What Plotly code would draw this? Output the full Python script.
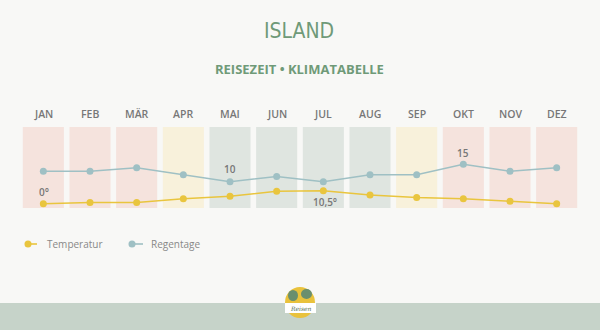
import plotly.graph_objects as go

months = ["JAN", "FEB", "MÄR", "APR", "MAI", "JUN", "JUL", "AUG", "SEP", "OKT", "NOV", "DEZ"]
temperatur = [0, 1, 1, 4, 6, 10, 10.5, 7, 5, 4, 2, 0]
regentage = [13, 13, 14, 12, 10, 11.5, 10, 12, 12, 15, 13, 14]
season = ["schlecht", "schlecht", "schlecht", "mittel", "gut", "gut", "gut", "gut", "mittel", "schlecht", "schlecht", "schlecht"]

season_colors = {"schlecht": "#f5e3dd", "mittel": "#f8f1db", "gut": "#dfe5e0"}
BG = "#f8f8f6"
TEMP_C = "#e9c53e"
RAIN_C = "#9fc0c4"
TXT = "#777777"
GREEN = "#6f9a78"

x = list(range(len(months)))

fig = go.Figure()
fig.add_trace(go.Scatter(x=x, y=temperatur, mode="lines+markers", name="Temperatur",
                         line=dict(color=TEMP_C, width=1.6), marker=dict(size=7, color=TEMP_C),
                         yaxis="y", showlegend=False, hoverinfo="skip"))
fig.add_trace(go.Scatter(x=x, y=regentage, mode="lines+markers", name="Regentage",
                         line=dict(color=RAIN_C, width=1.6), marker=dict(size=7, color=RAIN_C),
                         yaxis="y2", showlegend=False, hoverinfo="skip"))

shapes = []
for i, s in enumerate(season):
    shapes.append(dict(type="rect", xref="x", yref="paper", x0=i - 0.44, x1=i + 0.44, y0=0, y1=1,
                       fillcolor=season_colors[s], line=dict(width=0), layer="below"))

H = 81.0  # plot height px
TOP = 127.0
def py(p):  # pixel y -> paper y
    return (TOP + H - p) / H
W = 560.0
def px(p):
    return (p - 20) / W

# bottom band
shapes.append(dict(type="rect", xref="paper", yref="paper", x0=px(-5), x1=px(605), y0=py(303), y1=py(335),
                   fillcolor="#c6d3c9", line=dict(width=0), layer="below"))
# logo
shapes.append(dict(type="circle", xref="paper", yref="paper", x0=px(285), x1=px(315), y0=py(318), y1=py(287),
                   fillcolor="#e9c23c", line=dict(width=0)))
shapes.append(dict(type="circle", xref="paper", yref="paper", x0=px(288), x1=px(298), y0=py(301), y1=py(290),
                   fillcolor="#6a8f6e", line=dict(width=0)))
shapes.append(dict(type="circle", xref="paper", yref="paper", x0=px(301), x1=px(312), y0=py(299), y1=py(289),
                   fillcolor="#6a8f6e", line=dict(width=0)))
shapes.append(dict(type="rect", xref="paper", yref="paper", x0=px(285), x1=px(316), y0=py(313), y1=py(303),
                   fillcolor="#ffffff", line=dict(width=0)))
# legend
for (cx, c1, col) in [(28, 37, TEMP_C), (132, 143, RAIN_C)]:
    shapes.append(dict(type="line", xref="paper", yref="paper", x0=px(cx), x1=px(c1), y0=py(244), y1=py(244),
                       line=dict(color=col, width=1.6)))
    shapes.append(dict(type="circle", xref="paper", yref="paper", x0=px(cx - 3.5), x1=px(cx + 3.5),
                       y0=py(247.5), y1=py(240.5), fillcolor=col, line=dict(width=0)))

annotations = []
for i, m in enumerate(months):
    annotations.append(dict(x=i, y=py(114), xref="x", yref="paper", text=m, showarrow=False,
                            font=dict(family="Open Sans", size=10.5, color=TXT, weight=600),
                            xanchor="center", yanchor="middle"))

def lab(**kw):
    d = dict(showarrow=False, xanchor="center", yanchor="middle")
    d.update(kw)
    return d

annotations += [
    lab(x=4, y=regentage[4], xref="x", yref="y2", text="10", yshift=13,
        font=dict(family="Open Sans", size=10, color=TXT, weight=600)),
    lab(x=9, y=regentage[9], xref="x", yref="y2", text="15", yshift=11,
        font=dict(family="Open Sans", size=10, color=TXT, weight=600)),
    lab(x=0, y=temperatur[0], xref="x", yref="y", text="0°", yshift=12, xshift=1,
        font=dict(family="Open Sans", size=10, color=TXT, weight=600)),
    lab(x=6, y=temperatur[6], xref="x", yref="y", text="10,5°", yshift=-11, xshift=2,
        font=dict(family="Open Sans", size=10, color=TXT, weight=600)),
    lab(x=px(299), y=py(31), xref="paper", yref="paper", text="ISLAND",
        font=dict(family="Liberation Sans Narrow, DejaVu Sans Condensed, Liberation Sans", size=21, color=GREEN)),
    lab(x=px(299), y=py(69), xref="paper", yref="paper", text="REISEZEIT • KLIMATABELLE",
        font=dict(family="Open Sans", size=13, color=GREEN, weight=700)),
    lab(x=px(45), y=py(244), xref="paper", yref="paper", text="Temperatur", xanchor="left",
        font=dict(family="Open Sans", size=10, color="#888888")),
    lab(x=px(149), y=py(244), xref="paper", yref="paper", text="Regentage", xanchor="left",
        font=dict(family="Open Sans", size=10, color="#888888")),
    lab(x=px(300.5), y=py(308), xref="paper", yref="paper", text="<i>Reisen</i>",
        font=dict(family="DejaVu Serif", size=6, color="#4f6f55")),
]

fig.update_layout(
    width=600, height=330,
    margin=dict(l=20, r=20, t=127, b=122),
    paper_bgcolor=BG, plot_bgcolor=BG,
    xaxis=dict(range=[-0.5, 11.5], visible=False, fixedrange=True),
    yaxis=dict(range=[-3.47, 61.95], visible=False, fixedrange=True),
    yaxis2=dict(range=[2.44, 25.72], visible=False, overlaying="y", fixedrange=True),
    shapes=shapes, annotations=annotations, showlegend=False,
)
fig.write_html("out.html", config={"displayModeBar": False})
